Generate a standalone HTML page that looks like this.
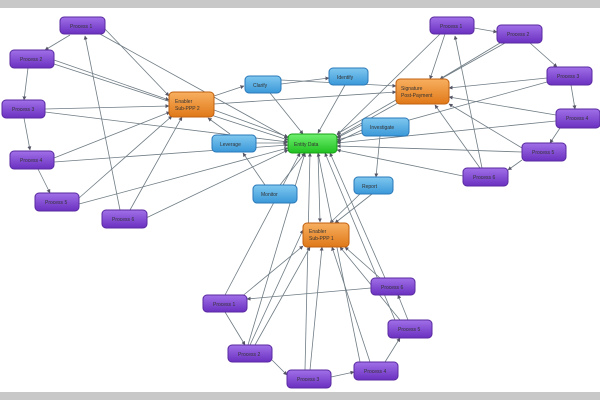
<!DOCTYPE html>
<html><head><meta charset="utf-8"><style>
html,body{margin:0;padding:0;background:#fff;}
svg{display:block;}
text{font-family:"Liberation Sans",sans-serif;font-size:5px;fill:#333;}
</style></head><body>
<svg width="600" height="400" viewBox="0 0 600 400" xmlns="http://www.w3.org/2000/svg">
<defs>
<marker id="a" viewBox="0 0 10 10" refX="9" refY="5" markerWidth="5" markerHeight="5" orient="auto"><path d="M0,0L10,5L0,10z" fill="#556"/></marker>
<linearGradient id="gp" x1="0" y1="0" x2="0" y2="1"><stop offset="0" stop-color="#a070e8"/><stop offset="1" stop-color="#6a30c0"/></linearGradient>
<linearGradient id="go" x1="0" y1="0" x2="0" y2="1"><stop offset="0" stop-color="#f8b060"/><stop offset="1" stop-color="#e07818"/></linearGradient>
<linearGradient id="gb" x1="0" y1="0" x2="0" y2="1"><stop offset="0" stop-color="#80c8f0"/><stop offset="1" stop-color="#3a98d8"/></linearGradient>
<linearGradient id="gg" x1="0" y1="0" x2="0" y2="1"><stop offset="0" stop-color="#70f070"/><stop offset="1" stop-color="#20c020"/></linearGradient>
</defs>
<rect x="0" y="0" width="600" height="8" fill="#c8c8c8"/>
<rect x="0" y="392" width="600" height="8" fill="#c8c8c8"/>
<g stroke="#6f7c84" stroke-width="0.8" fill="none" marker-end="url(#a)">
<!-- left cluster to left orange -->
<line x1="104" y1="28" x2="169" y2="96"/>
<line x1="54" y1="60" x2="169" y2="100"/>
<line x1="45" y1="109" x2="169" y2="106"/>
<line x1="54" y1="158" x2="170" y2="112"/>
<line x1="79" y1="198" x2="172" y2="116"/>
<line x1="130" y1="210" x2="182" y2="117"/>
<!-- left cluster to green -->
<line x1="100" y1="34" x2="288" y2="138"/>
<line x1="54" y1="64" x2="288" y2="140"/>
<line x1="45" y1="112" x2="288" y2="142"/>
<line x1="54" y1="162" x2="288" y2="145"/>
<line x1="79" y1="204" x2="288" y2="148"/>
<line x1="146" y1="218" x2="288" y2="150"/>
<line x1="120" y1="210" x2="85" y2="36"/>
<!-- left cycle -->
<line x1="70" y1="35" x2="45" y2="50"/>
<line x1="28" y1="68" x2="24" y2="100"/>
<line x1="24" y1="118" x2="30" y2="150"/>
<line x1="38" y1="169" x2="50" y2="193"/>
<!-- orange left -->
<line x1="214" y1="96" x2="244" y2="86"/>
<line x1="214" y1="110" x2="288" y2="137"/>
<line x1="230" y1="134" x2="208" y2="118"/>
<line x1="256" y1="143" x2="287" y2="143"/>
<line x1="214" y1="104" x2="396" y2="92"/>
<line x1="281" y1="84" x2="329" y2="78"/>
<line x1="270" y1="93" x2="303" y2="134"/>
<line x1="281" y1="80" x2="396" y2="86"/>
<line x1="265" y1="185" x2="243" y2="153"/>
<line x1="280" y1="185" x2="305" y2="153"/>
<!-- blue D, E, F -->
<line x1="345" y1="85" x2="318" y2="133"/>
<line x1="362" y1="125" x2="337" y2="138"/>
<line x1="380" y1="136" x2="376" y2="177"/>
<line x1="362" y1="130" x2="337" y2="142"/>
<line x1="396" y1="100" x2="337" y2="134"/>
<line x1="372" y1="194" x2="335" y2="223"/>
<line x1="360" y1="194" x2="330" y2="223"/>
<!-- right cluster to right orange -->
<line x1="445" y1="34" x2="430" y2="79"/>
<line x1="500" y1="43" x2="440" y2="79"/>
<line x1="547" y1="78" x2="449" y2="88"/>
<line x1="556" y1="115" x2="449" y2="97"/>
<line x1="522" y1="148" x2="449" y2="104"/>
<line x1="480" y1="168" x2="435" y2="105"/>
<line x1="482" y1="168" x2="455" y2="36"/>
<!-- right cluster to green -->
<line x1="440" y1="34" x2="337" y2="135"/>
<line x1="505" y1="43" x2="337" y2="137"/>
<line x1="547" y1="82" x2="337" y2="140"/>
<line x1="556" y1="121" x2="337" y2="143"/>
<line x1="522" y1="152" x2="337" y2="146"/>
<line x1="463" y1="176" x2="337" y2="150"/>
<!-- right cycle -->
<line x1="474" y1="28" x2="497" y2="32"/>
<line x1="530" y1="43" x2="557" y2="67"/>
<line x1="571" y1="85" x2="575" y2="109"/>
<line x1="560" y1="128" x2="550" y2="143"/>
<line x1="522" y1="160" x2="508" y2="170"/>
<!-- bottom orange and green -->
<line x1="318" y1="153" x2="320" y2="222"/>
<line x1="225" y1="295" x2="300" y2="153"/>
<line x1="248" y1="345" x2="305" y2="153"/>
<line x1="305" y1="370" x2="310" y2="153"/>
<line x1="360" y1="362" x2="318" y2="153"/>
<line x1="395" y1="320" x2="325" y2="153"/>
<line x1="385" y1="278" x2="330" y2="153"/>
<line x1="240" y1="298" x2="303" y2="246"/>
<line x1="255" y1="345" x2="310" y2="247"/>
<line x1="310" y1="370" x2="322" y2="247"/>
<line x1="370" y1="362" x2="332" y2="247"/>
<line x1="400" y1="320" x2="340" y2="247"/>
<line x1="380" y1="278" x2="345" y2="247"/>
<line x1="371" y1="288" x2="247" y2="299"/>
<line x1="225" y1="312" x2="245" y2="345"/>
<line x1="272" y1="360" x2="287" y2="375"/>
<line x1="331" y1="377" x2="354" y2="372"/>
<line x1="385" y1="362" x2="400" y2="338"/>
<line x1="408" y1="320" x2="398" y2="295"/>
<line x1="250" y1="345" x2="303" y2="230"/>
</g>
<g stroke-width="1">
<g fill="url(#gp)" stroke="#5a2aa0">
<rect x="60" y="17" width="45" height="17" rx="4"/>
<rect x="10" y="50" width="44" height="18" rx="4"/>
<rect x="2" y="100" width="43" height="18" rx="4"/>
<rect x="10" y="151" width="44" height="18" rx="4"/>
<rect x="35" y="193" width="44" height="18" rx="4"/>
<rect x="102" y="210" width="45" height="18" rx="4"/>
<rect x="430" y="17" width="44" height="17" rx="4"/>
<rect x="497" y="25" width="45" height="18" rx="4"/>
<rect x="547" y="67" width="45" height="18" rx="4"/>
<rect x="556" y="109" width="44" height="19" rx="4"/>
<rect x="522" y="143" width="44" height="18" rx="4"/>
<rect x="463" y="168" width="45" height="18" rx="4"/>
<rect x="203" y="295" width="44" height="17" rx="4"/>
<rect x="228" y="345" width="44" height="17" rx="4"/>
<rect x="287" y="370" width="44" height="18" rx="4"/>
<rect x="354" y="362" width="44" height="18" rx="4"/>
<rect x="388" y="320" width="44" height="18" rx="4"/>
<rect x="371" y="278" width="44" height="17" rx="4"/>
</g>
<g fill="url(#go)" stroke="#c06010">
<rect x="169" y="92" width="45" height="25" rx="4"/>
<rect x="396" y="79" width="53" height="25" rx="4"/>
<rect x="303" y="223" width="46" height="24" rx="4"/>
</g>
<g fill="url(#gb)" stroke="#2a78b8">
<rect x="245" y="76" width="36" height="17" rx="4"/>
<rect x="212" y="135" width="44" height="17" rx="4"/>
<rect x="253" y="185" width="44" height="18" rx="4"/>
<rect x="329" y="68" width="39" height="17" rx="4"/>
<rect x="362" y="118" width="47" height="18" rx="4"/>
<rect x="354" y="177" width="39" height="17" rx="4"/>
</g>
<rect x="288" y="134" width="49" height="19" rx="4" fill="url(#gg)" stroke="#18a018"/>
</g>
<g>
<text x="70" y="28">Process 1</text><text x="20" y="61">Process 2</text><text x="12" y="111">Process 3</text>
<text x="20" y="162">Process 4</text><text x="45" y="204">Process 5</text><text x="112" y="221">Process 6</text>
<text x="440" y="28">Process 1</text><text x="507" y="36">Process 2</text><text x="557" y="78">Process 3</text>
<text x="566" y="120">Process 4</text><text x="532" y="154">Process 5</text><text x="473" y="179">Process 6</text>
<text x="213" y="306">Process 1</text><text x="238" y="356">Process 2</text><text x="297" y="381">Process 3</text>
<text x="364" y="373">Process 4</text><text x="398" y="331">Process 5</text><text x="381" y="289">Process 6</text>
<text x="175" y="103">Enabler</text><text x="175" y="110">Sub-PPP 2</text>
<text x="401" y="90">Signature</text><text x="401" y="97">Post-Payment</text>
<text x="309" y="233">Enabler</text><text x="309" y="240">Sub-PPP 1</text>
<text x="253" y="87">Clarify</text><text x="220" y="146">Leverage</text><text x="261" y="196">Monitor</text>
<text x="337" y="79">Identify</text><text x="370" y="129">Investigate</text><text x="362" y="188">Report</text>
<text x="294" y="146">Entity Data</text>
</g>
</svg>
</body></html>
